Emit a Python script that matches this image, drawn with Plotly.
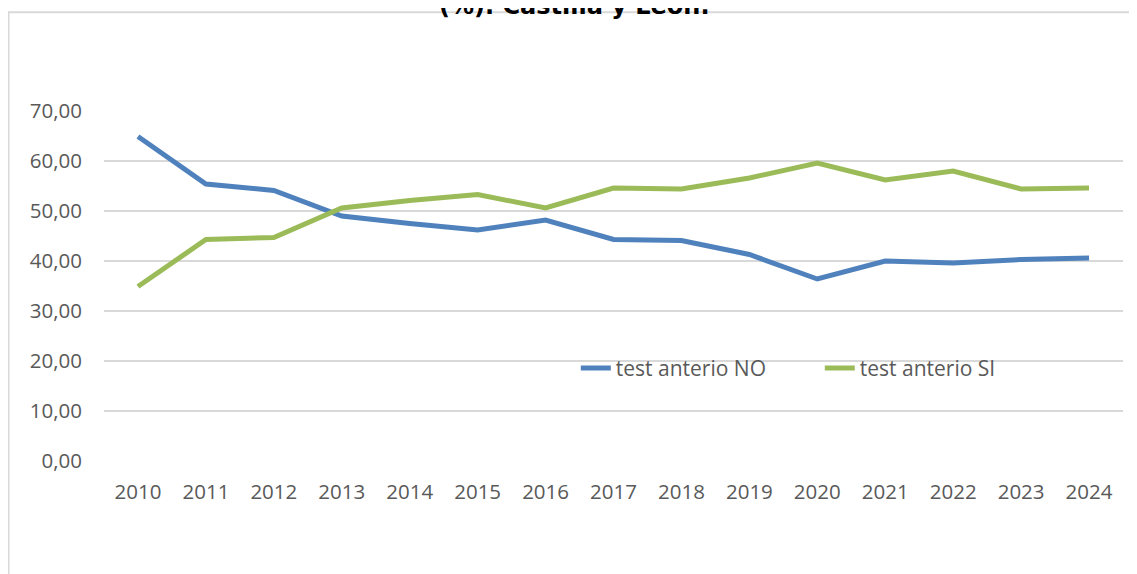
import plotly.graph_objects as go

years = ["2010", "2011", "2012", "2013", "2014", "2015", "2016", "2017",
         "2018", "2019", "2020", "2021", "2022", "2023", "2024"]
test_no = [64.9, 55.4, 54.1, 49.0, 47.5, 46.2, 48.2, 44.3, 44.1, 41.3, 36.4, 40.0, 39.6, 40.3, 40.6]
test_si = [34.9, 44.3, 44.7, 50.6, 52.1, 53.3, 50.6, 54.6, 54.4, 56.6, 59.6, 56.2, 58.0, 54.4, 54.6]
series_names = ["test anterio NO", "test anterio SI"]
title_text = "(%). Castilla y León."

fig = go.Figure()
fig.add_trace(go.Scatter(x=years, y=test_no, mode="lines", name=series_names[0],
                         line=dict(color="#4F81BD", width=5)))
fig.add_trace(go.Scatter(x=years, y=test_si, mode="lines", name=series_names[1],
                         line=dict(color="#9BBB59", width=5)))

font_main = "Open Sans"
fig.update_layout(
    width=1129, height=566,
    margin=dict(l=96, r=14, t=103, b=113),
    paper_bgcolor="white", plot_bgcolor="white",
    separators=",.",
    font=dict(family=font_main, size=20.5, color="#595959"),
    showlegend=True,
    legend=dict(orientation="h", x=0.463, y=0.265, xanchor="left", yanchor="middle",
                font=dict(family=font_main, size=21, color="#595959"),
                bgcolor="rgba(0,0,0,0)", entrywidth=199, entrywidthmode="pixels",
                traceorder="normal"),
    xaxis=dict(type="category", range=[-0.5, 14.5], showgrid=False, showline=False,
               zeroline=False, ticks="", ticklabelstandoff=16,
               tickfont=dict(family=font_main, size=20.5, color="#595959")),
    yaxis=dict(range=[0, 70], dtick=10, tickformat=".2f", showgrid=True,
               gridcolor="#D9D9D9", gridwidth=2, zeroline=False, showline=False,
               ticks="", ticklabelstandoff=21,
               tickfont=dict(family=font_main, size=20.5, color="#595959")),
    shapes=[dict(type="rect", xref="paper", yref="paper",
                 x0=-0.0937, x1=1.3, y0=-1.0, y1=1.2818,
                 line=dict(color="#D9D9D9", width=2), layer="below")],
    annotations=[dict(text="<b>" + title_text + "</b>", xref="paper", yref="paper",
                      x=0.462, y=1.254, xanchor="center", yanchor="bottom",
                      showarrow=False,
                      font=dict(family="DejaVu Sans", size=24, color="#000000"))],
)

fig.write_html("out.html")
